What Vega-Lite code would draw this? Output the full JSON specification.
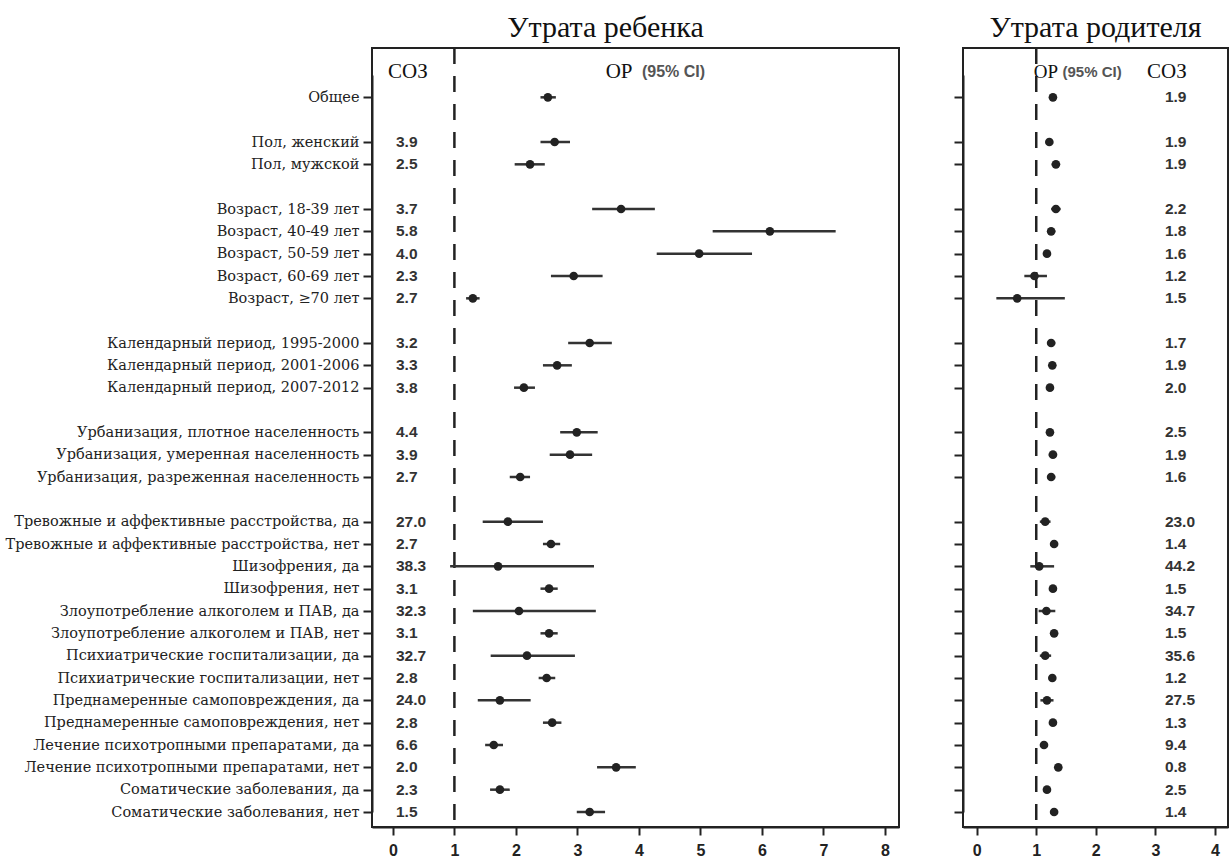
{
  "$schema": "https://vega.github.io/schema/vega-lite/v6.json",
  "background": "white",
  "padding": {"left": 4, "top": 11, "right": 0, "bottom": 0},
  "datasets": {
    "rows": [
      {"i": 0, "label": "", "soz_c": "", "soz_p": ""},
      {"i": 1, "label": "Общее", "rr_c": 2.52, "lo_c": 2.40, "hi_c": 2.65, "soz_c": "", "rr_p": 1.28, "lo_p": 1.23, "hi_p": 1.33, "soz_p": "1.9"},
      {"i": 2, "label": " ", "soz_c": "", "soz_p": ""},
      {"i": 3, "label": "Пол, женский", "rr_c": 2.63, "lo_c": 2.40, "hi_c": 2.88, "soz_c": "3.9", "rr_p": 1.22, "lo_p": 1.16, "hi_p": 1.28, "soz_p": "1.9"},
      {"i": 4, "label": "Пол, мужской", "rr_c": 2.23, "lo_c": 1.98, "hi_c": 2.47, "soz_c": "2.5", "rr_p": 1.33, "lo_p": 1.26, "hi_p": 1.40, "soz_p": "1.9"},
      {"i": 5, "label": "  ", "soz_c": "", "soz_p": ""},
      {"i": 6, "label": "Возраст, 18-39 лет", "rr_c": 3.71, "lo_c": 3.24, "hi_c": 4.26, "soz_c": "3.7", "rr_p": 1.33, "lo_p": 1.25, "hi_p": 1.41, "soz_p": "2.2"},
      {"i": 7, "label": "Возраст, 40-49 лет", "rr_c": 6.13, "lo_c": 5.20, "hi_c": 7.20, "soz_c": "5.8", "rr_p": 1.25, "lo_p": 1.18, "hi_p": 1.32, "soz_p": "1.8"},
      {"i": 8, "label": "Возраст, 50-59 лет", "rr_c": 4.98, "lo_c": 4.29, "hi_c": 5.84, "soz_c": "4.0", "rr_p": 1.18, "lo_p": 1.12, "hi_p": 1.24, "soz_p": "1.6"},
      {"i": 9, "label": "Возраст, 60-69 лет", "rr_c": 2.94, "lo_c": 2.57, "hi_c": 3.41, "soz_c": "2.3", "rr_p": 0.97, "lo_p": 0.80, "hi_p": 1.18, "soz_p": "1.2"},
      {"i": 10, "label": "Возраст, ≥70 лет", "rr_c": 1.30, "lo_c": 1.19, "hi_c": 1.41, "soz_c": "2.7", "rr_p": 0.68, "lo_p": 0.33, "hi_p": 1.48, "soz_p": "1.5"},
      {"i": 11, "label": "   ", "soz_c": "", "soz_p": ""},
      {"i": 12, "label": "Календарный период, 1995-2000", "rr_c": 3.20, "lo_c": 2.85, "hi_c": 3.56, "soz_c": "3.2", "rr_p": 1.25, "lo_p": 1.18, "hi_p": 1.32, "soz_p": "1.7"},
      {"i": 13, "label": "Календарный период, 2001-2006", "rr_c": 2.67, "lo_c": 2.44, "hi_c": 2.91, "soz_c": "3.3", "rr_p": 1.27, "lo_p": 1.21, "hi_p": 1.33, "soz_p": "1.9"},
      {"i": 14, "label": "Календарный период, 2007-2012", "rr_c": 2.13, "lo_c": 1.97, "hi_c": 2.31, "soz_c": "3.8", "rr_p": 1.23, "lo_p": 1.17, "hi_p": 1.29, "soz_p": "2.0"},
      {"i": 15, "label": "    ", "soz_c": "", "soz_p": ""},
      {"i": 16, "label": "Урбанизация, плотное населенность", "rr_c": 2.99, "lo_c": 2.72, "hi_c": 3.33, "soz_c": "4.4", "rr_p": 1.23, "lo_p": 1.17, "hi_p": 1.29, "soz_p": "2.5"},
      {"i": 17, "label": "Урбанизация, умеренная населенность", "rr_c": 2.88, "lo_c": 2.55, "hi_c": 3.24, "soz_c": "3.9", "rr_p": 1.28, "lo_p": 1.21, "hi_p": 1.35, "soz_p": "1.9"},
      {"i": 18, "label": "Урбанизация, разреженная населенность", "rr_c": 2.07, "lo_c": 1.90, "hi_c": 2.23, "soz_c": "2.7", "rr_p": 1.25, "lo_p": 1.18, "hi_p": 1.32, "soz_p": "1.6"},
      {"i": 19, "label": "     ", "soz_c": "", "soz_p": ""},
      {"i": 20, "label": "Тревожные и аффективные расстройства, да", "rr_c": 1.87, "lo_c": 1.46, "hi_c": 2.44, "soz_c": "27.0", "rr_p": 1.15, "lo_p": 1.06, "hi_p": 1.24, "soz_p": "23.0"},
      {"i": 21, "label": "Тревожные и аффективные расстройства, нет", "rr_c": 2.57, "lo_c": 2.44, "hi_c": 2.72, "soz_c": "2.7", "rr_p": 1.30, "lo_p": 1.25, "hi_p": 1.35, "soz_p": "1.4"},
      {"i": 22, "label": "Шизофрения, да", "rr_c": 1.71, "lo_c": 0.93, "hi_c": 3.27, "soz_c": "38.3", "rr_p": 1.05, "lo_p": 0.90, "hi_p": 1.30, "soz_p": "44.2"},
      {"i": 23, "label": "Шизофрения, нет", "rr_c": 2.54, "lo_c": 2.40, "hi_c": 2.68, "soz_c": "3.1", "rr_p": 1.28, "lo_p": 1.23, "hi_p": 1.33, "soz_p": "1.5"},
      {"i": 24, "label": "Злоупотребление алкоголем и ПАВ, да", "rr_c": 2.05, "lo_c": 1.30, "hi_c": 3.30, "soz_c": "32.3", "rr_p": 1.17, "lo_p": 1.04, "hi_p": 1.32, "soz_p": "34.7"},
      {"i": 25, "label": "Злоупотребление алкоголем и ПАВ, нет", "rr_c": 2.54, "lo_c": 2.40, "hi_c": 2.68, "soz_c": "3.1", "rr_p": 1.30, "lo_p": 1.25, "hi_p": 1.35, "soz_p": "1.5"},
      {"i": 26, "label": "Психиатрические госпитализации, да", "rr_c": 2.18, "lo_c": 1.59, "hi_c": 2.96, "soz_c": "32.7", "rr_p": 1.15, "lo_p": 1.06, "hi_p": 1.25, "soz_p": "35.6"},
      {"i": 27, "label": "Психиатрические госпитализации, нет", "rr_c": 2.50, "lo_c": 2.37, "hi_c": 2.64, "soz_c": "2.8", "rr_p": 1.27, "lo_p": 1.22, "hi_p": 1.32, "soz_p": "1.2"},
      {"i": 28, "label": "Преднамеренные самоповреждения, да", "rr_c": 1.74, "lo_c": 1.38, "hi_c": 2.24, "soz_c": "24.0", "rr_p": 1.18, "lo_p": 1.07, "hi_p": 1.29, "soz_p": "27.5"},
      {"i": 29, "label": "Преднамеренные самоповреждения, нет", "rr_c": 2.59, "lo_c": 2.44, "hi_c": 2.74, "soz_c": "2.8", "rr_p": 1.28, "lo_p": 1.23, "hi_p": 1.33, "soz_p": "1.3"},
      {"i": 30, "label": "Лечение психотропными препаратами, да", "rr_c": 1.64, "lo_c": 1.50, "hi_c": 1.79, "soz_c": "6.6", "rr_p": 1.13, "lo_p": 1.07, "hi_p": 1.19, "soz_p": "9.4"},
      {"i": 31, "label": "Лечение психотропными препаратами, нет", "rr_c": 3.63, "lo_c": 3.32, "hi_c": 3.95, "soz_c": "2.0", "rr_p": 1.37, "lo_p": 1.31, "hi_p": 1.43, "soz_p": "0.8"},
      {"i": 32, "label": "Соматические заболевания, да", "rr_c": 1.74, "lo_c": 1.58, "hi_c": 1.90, "soz_c": "2.3", "rr_p": 1.18, "lo_p": 1.12, "hi_p": 1.24, "soz_p": "2.5"},
      {"i": 33, "label": "Соматические заболевания, нет", "rr_c": 3.20, "lo_c": 2.99, "hi_c": 3.45, "soz_c": "1.5", "rr_p": 1.30, "lo_p": 1.24, "hi_p": 1.36, "soz_p": "1.4"}
    ]
  },
  "hconcat": [
    {
      "data": {"name": "rows"},
      "width": 527,
      "height": 779,
      "title": {"text": "Утрата ребенка", "font": "Liberation Serif", "fontSize": 30, "fontWeight": "normal", "color": "#111", "frame": "group", "anchor": "middle", "dx": -30, "offset": 4},
      "layer": [
        {
          "mark": {"type": "text", "font": "Liberation Sans", "fontWeight": "bold", "fontSize": 15.5, "align": "left", "baseline": "middle", "color": "#333"},
          "encoding": {
            "x": {"datum": 0.05, "type": "quantitative", "scale": {"domain": [-0.34, 8.23], "nice": false, "zero": false},
                  "axis": {"title": null, "values": [0, 1, 2, 3, 4, 5, 6, 7, 8], "format": "d", "grid": false, "labelFont": "Liberation Sans", "labelFontWeight": "bold", "labelFontSize": 16, "labelColor": "#222", "labelPadding": 7, "tickSize": 8, "tickWidth": 2, "tickColor": "#222", "domainColor": "#222", "domainWidth": 2}},
            "y": {"field": "label", "type": "nominal", "sort": {"field": "i", "op": "min"}, "scale": {"type": "point", "padding": 0, "range": [27, 764]},
                  "axis": {"title": null, "labelFont": "DejaVu Serif", "labelFontSize": 14.5, "labelColor": "#222", "labelLimit": 400, "labelPadding": 4, "tickSize": 9, "tickWidth": 2, "tickColor": "#222", "tickOpacity": {"condition": {"test": "trim(datum.value) === ''", "value": 0}, "value": 1}, "domainColor": "#222", "domainWidth": 2}},
            "text": {"field": "soz_c"}
          }
        },
        {
          "data": {"values": [{}]},
          "mark": {"type": "rule", "strokeDash": [16, 12], "strokeWidth": 2.5, "color": "#222"},
          "encoding": {"x": {"datum": 1, "type": "quantitative"}}
        },
        {
          "mark": {"type": "rule", "strokeWidth": 2.5, "color": "#333"},
          "encoding": {
            "x": {"field": "lo_c", "type": "quantitative"},
            "x2": {"field": "hi_c"},
            "y": {"field": "label", "type": "nominal", "sort": {"field": "i", "op": "min"}}
          }
        },
        {
          "mark": {"type": "point", "filled": true, "size": 75, "color": "#222", "opacity": 1},
          "encoding": {
            "x": {"field": "rr_c", "type": "quantitative"},
            "y": {"field": "label", "type": "nominal", "sort": {"field": "i", "op": "min"}}
          }
        },
        {
          "transform": [{"filter": "datum.i === 0"}],
          "mark": {"type": "text", "font": "Liberation Serif", "fontSize": 21, "align": "left", "baseline": "middle", "color": "#111", "dy": -3},
          "encoding": {
            "x": {"datum": -0.08, "type": "quantitative"},
            "y": {"field": "label", "type": "nominal", "sort": {"field": "i", "op": "min"}},
            "text": {"value": "СОЗ"}
          }
        },
        {
          "transform": [{"filter": "datum.i === 0"}],
          "mark": {"type": "text", "font": "Liberation Serif", "fontSize": 21, "align": "left", "baseline": "middle", "color": "#111", "dy": -3},
          "encoding": {
            "x": {"datum": 3.46, "type": "quantitative"},
            "y": {"field": "label", "type": "nominal", "sort": {"field": "i", "op": "min"}},
            "text": {"value": "ОР"}
          }
        },
        {
          "transform": [{"filter": "datum.i === 0"}],
          "mark": {"type": "text", "font": "Liberation Sans", "fontWeight": "bold", "fontSize": 16, "align": "left", "baseline": "middle", "color": "#555", "dy": -3},
          "encoding": {
            "x": {"datum": 4.05, "type": "quantitative"},
            "y": {"field": "label", "type": "nominal", "sort": {"field": "i", "op": "min"}},
            "text": {"value": "(95% CI)"}
          }
        }
      ]
    },
    {
      "data": {"name": "rows"},
      "width": 265,
      "height": 779,
      "title": {"text": "Утрата родителя", "font": "Liberation Serif", "fontSize": 30, "fontWeight": "normal", "color": "#111", "frame": "group", "anchor": "middle", "offset": 4},
      "layer": [
        {
          "mark": {"type": "text", "font": "Liberation Sans", "fontWeight": "bold", "fontSize": 15.5, "align": "left", "baseline": "middle", "color": "#333"},
          "encoding": {
            "x": {"datum": 3.16, "type": "quantitative", "scale": {"domain": [-0.23, 4.22], "nice": false, "zero": false},
                  "axis": {"title": null, "values": [0, 1, 2, 3, 4], "format": "d", "grid": false, "labelFont": "Liberation Sans", "labelFontWeight": "bold", "labelFontSize": 16, "labelColor": "#222", "labelPadding": 7, "tickSize": 8, "tickWidth": 2, "tickColor": "#222", "domainColor": "#222", "domainWidth": 2}},
            "y": {"field": "label", "type": "nominal", "sort": {"field": "i", "op": "min"}, "scale": {"type": "point", "padding": 0, "range": [27, 764]},
                  "axis": {"title": null, "labels": false, "tickSize": 9, "tickWidth": 2, "tickColor": "#222", "tickOpacity": {"condition": {"test": "trim(datum.value) === ''", "value": 0}, "value": 1}, "domainColor": "#222", "domainWidth": 2}},
            "text": {"field": "soz_p"}
          }
        },
        {
          "data": {"values": [{}]},
          "mark": {"type": "rule", "strokeDash": [16, 12], "strokeWidth": 2.5, "color": "#222"},
          "encoding": {"x": {"datum": 1, "type": "quantitative"}}
        },
        {
          "mark": {"type": "rule", "strokeWidth": 2.5, "color": "#333"},
          "encoding": {
            "x": {"field": "lo_p", "type": "quantitative"},
            "x2": {"field": "hi_p"},
            "y": {"field": "label", "type": "nominal", "sort": {"field": "i", "op": "min"}}
          }
        },
        {
          "mark": {"type": "point", "filled": true, "size": 75, "color": "#222", "opacity": 1},
          "encoding": {
            "x": {"field": "rr_p", "type": "quantitative"},
            "y": {"field": "label", "type": "nominal", "sort": {"field": "i", "op": "min"}}
          }
        },
        {
          "transform": [{"filter": "datum.i === 0"}],
          "mark": {"type": "text", "font": "Liberation Serif", "fontSize": 19, "align": "left", "baseline": "middle", "color": "#111", "dy": -3},
          "encoding": {
            "x": {"datum": 0.96, "type": "quantitative"},
            "y": {"field": "label", "type": "nominal", "sort": {"field": "i", "op": "min"}},
            "text": {"value": "ОР"}
          }
        },
        {
          "transform": [{"filter": "datum.i === 0"}],
          "mark": {"type": "text", "font": "Liberation Sans", "fontWeight": "bold", "fontSize": 15, "align": "left", "baseline": "middle", "color": "#555", "dy": -3},
          "encoding": {
            "x": {"datum": 1.44, "type": "quantitative"},
            "y": {"field": "label", "type": "nominal", "sort": {"field": "i", "op": "min"}},
            "text": {"value": "(95% CI)"}
          }
        },
        {
          "transform": [{"filter": "datum.i === 0"}],
          "mark": {"type": "text", "font": "Liberation Serif", "fontSize": 21, "align": "left", "baseline": "middle", "color": "#111", "dy": -3},
          "encoding": {
            "x": {"datum": 2.86, "type": "quantitative"},
            "y": {"field": "label", "type": "nominal", "sort": {"field": "i", "op": "min"}},
            "text": {"value": "СОЗ"}
          }
        }
      ]
    }
  ],
  "spacing": 64,
  "bounds": "flush",
  "config": {
    "view": {"stroke": "#222", "strokeWidth": 2},
    "axis": {"grid": false}
  }
}
